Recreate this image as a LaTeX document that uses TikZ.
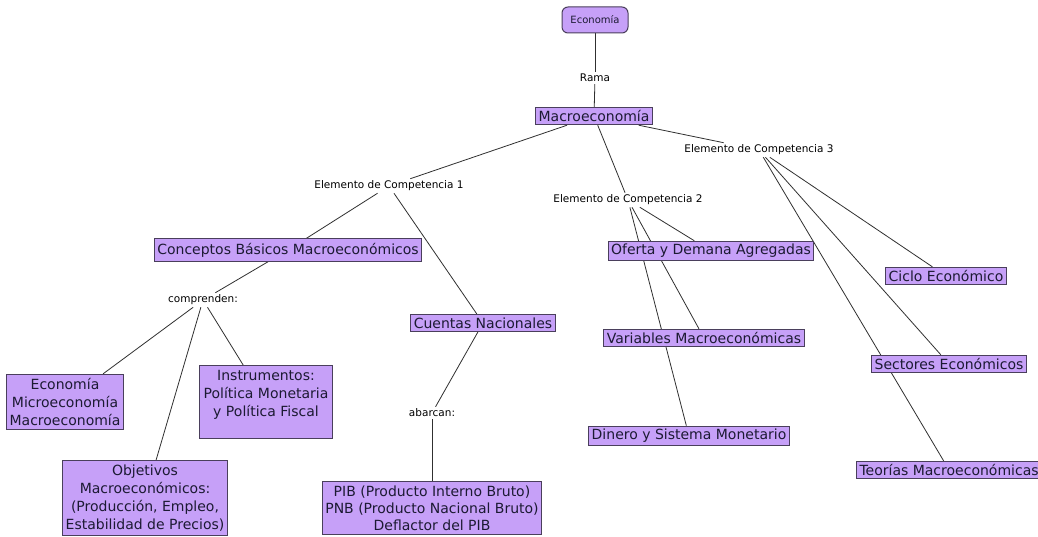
\documentclass[tikz,border=0pt]{standalone}
\usepackage{fontspec}
\setmainfont{DejaVu Sans}
\usetikzlibrary{backgrounds}
\definecolor{boxfill}{HTML}{C6A0F8}
\definecolor{boxline}{HTML}{4A3F5C}
\definecolor{txt}{HTML}{1C1A33}
\definecolor{edge}{HTML}{303030}
\begin{document}
\begin{tikzpicture}[x=1pt,y=-1pt,
  concept/.style={draw=boxline,fill=boxfill,line width=1pt,text=txt,align=center,
    inner xsep=3pt,inner ysep=4pt,font=\fontsize{14}{18}\selectfont},
  linklabel/.style={text=black,inner sep=2pt,font=\fontsize{10.5}{12}\selectfont},
  conn/.style={draw=edge,line width=0.8pt}]
\useasboundingbox (0,0) rectangle (1038,537);
\clip (0,0) rectangle (1038,537);
% nodes
\node[concept,rounded corners=6pt,font=\fontsize{10}{12}\selectfont,minimum width=66pt,minimum height=26pt] (eco) at (595,20) {Economía};
\node[linklabel] (rama) at (595,78) {Rama};
\node[concept,inner ysep=3pt] (macro) at (594,116) {Macroeconomía};
\node[linklabel] (ec1) at (389,186) {Elemento de Competencia 1};
\node[linklabel] (ec2) at (628,200) {Elemento de Competencia 2};
\node[linklabel] (ec3) at (759,150) {Elemento de Competencia 3};
\node[concept] (conceptos) at (288,250) {Conceptos Básicos Macroeconómicos};
\node[concept,inner ysep=3pt] (oferta) at (711,251) {Oferta y Demana Agregadas};
\node[concept,inner ysep=3pt] (ciclo) at (946,276) {Ciclo Económico};
\node[concept,inner ysep=3pt] (cuentas) at (483,323) {Cuentas Nacionales};
\node[linklabel] (comp) at (203,300) {comprenden:};
\node[concept,inner ysep=3pt] (variables) at (704,338) {Variables Macroeconómicas};
\node[concept,inner ysep=3pt] (sectores) at (949,364) {Sectores Económicos};
\node[concept] (econ3) at (65,402) {Economía\\Microeconomía\\Macroeconomía};
\node[concept,minimum width=133pt] (instr) at (266,402) {Instrumentos:\\Política Monetaria\\y Política Fiscal\\\mbox{}};
\node[linklabel] (abarcan) at (432,413) {abarcan:};
\node[concept,inner ysep=3pt] (dinero) at (689,436) {Dinero y Sistema Monetario};
\node[concept,anchor=west,inner ysep=3pt] (teorias) at (856,470) {Teorías Macroeconómicas};
\node[concept] (objetivos) at (145,498) {Objetivos\\Macroeconómicos:\\(Producción, Empleo,\\Estabilidad de Precios)};
\node[concept,font=\fontsize{14}{17}\selectfont] (pib) at (432,508) {PIB (Producto Interno Bruto)\\PNB (Producto Nacional Bruto)\\Deflactor del PIB};
% connectors
\begin{scope}[on background layer]
\fill[white] (0,0) rectangle (1038,537);
\draw[conn] (eco) -- (rama);
\draw[conn] (rama) -- (macro);
\draw[conn] (macro) -- (ec1);
\draw[conn] (macro) -- (ec2);
\draw[conn] (macro) -- (ec3);
\draw[conn] (ec1) -- (conceptos);
\draw[conn] (ec1) -- (cuentas);
\draw[conn] (ec2) -- (oferta);
\draw[conn] (ec2) -- (variables);
\draw[conn] (ec2) -- (dinero);
\draw[conn] (ec3) -- (ciclo);
\draw[conn] (ec3) -- (sectores);
\draw[conn] (ec3) -- (teorias);
\draw[conn] (conceptos) -- (comp);
\draw[conn] (comp) -- (econ3);
\draw[conn] (comp) -- (objetivos);
\draw[conn] (comp) -- (instr);
\draw[conn] (cuentas) -- (abarcan);
\draw[conn] (abarcan) -- (pib);
\end{scope}
\end{tikzpicture}
\end{document}
